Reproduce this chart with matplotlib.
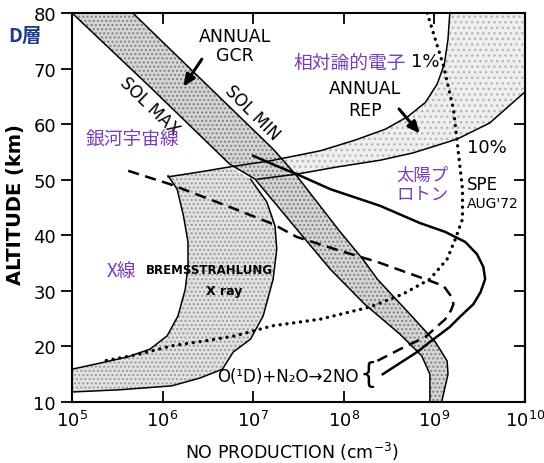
import numpy as np
import matplotlib
matplotlib.use("Agg")
import matplotlib.pyplot as plt

# all curves: x = log10(NO production, cm^-3), y = altitude (km)
solmax_x = [5.00, 5.86, 6.74, 7.02, 7.48, 7.85, 8.23, 8.62, 8.86, 8.95, 8.95]
solmax_y = [80.0, 66.7, 52.8, 50.1, 41.1, 33.9, 27.6, 22.2, 18.3, 15.0, 10.0]
solmin_x = [5.67, 7.22, 7.48, 7.96, 8.21, 8.37, 8.73, 9.01, 9.14, 9.15, 9.08]
solmin_y = [80.0, 55.5, 50.7, 40.6, 35.7, 32.1, 25.8, 20.8, 17.4, 15.0, 10.0]

rep1_x = [9.17, 9.15, 9.11, 9.03, 8.90, 8.71, 8.46, 8.12, 7.74, 7.19, 6.74, 6.41, 6.06]
rep1_y = [80.0, 75.3, 70.8, 67.2, 63.9, 61.4, 59.1, 57.1, 55.2, 53.4, 52.3, 51.4, 50.5]
rep10_x = [10.0, 9.61, 9.25, 8.76, 8.40, 7.93, 7.48, 7.05]
rep10_y = [65.8, 60.2, 57.3, 54.8, 53.5, 52.3, 51.0, 50.1]

xray_hi_x = [6.06, 6.16, 6.23, 6.28, 6.28, 6.25, 6.17, 6.05, 5.86, 5.61, 5.31, 5.00]
xray_hi_y = [50.7, 48.3, 43.5, 38.8, 34.5, 30.3, 25.5, 21.9, 19.5, 18.1, 17.0, 15.9]
xray_lo_x = [6.97, 7.15, 7.24, 7.26, 7.22, 7.11, 6.97, 6.78, 6.66, 6.41, 6.10, 5.53, 5.00]
xray_lo_y = [50.1, 46.0, 41.7, 37.5, 32.1, 25.5, 21.3, 19.0, 15.9, 14.3, 12.9, 12.2, 11.8]

spe_solid_x = [7.00, 7.24, 7.48, 7.85, 8.40, 8.84, 9.12, 9.34, 9.47, 9.54, 9.56, 9.51,
               9.43, 9.28, 9.17, 8.95, 8.81, 8.62, 8.43]
spe_solid_y = [54.3, 52.6, 51.0, 48.3, 45.3, 42.2, 40.6, 38.8, 36.6, 34.3, 32.1, 29.8,
               27.6, 25.3, 23.5, 20.8, 19.0, 17.0, 15.0]
dashed_x = [5.62, 6.08, 6.74, 7.22, 7.48, 7.96, 8.37, 8.95, 9.10, 9.19, 9.21, 9.18,
            9.12, 8.90, 8.62, 8.37]
dashed_y = [51.6, 49.2, 45.1, 42.0, 39.7, 37.2, 35.2, 31.8, 30.9, 28.9, 27.6, 26.4,
            24.9, 21.7, 19.5, 17.4]
dotted_x = [8.92, 9.10, 9.21, 9.26, 9.31, 9.31, 9.23, 9.14, 8.95, 8.65, 8.29, 7.74,
            7.21, 6.80, 6.47, 6.10, 5.74, 5.36]
dotted_y = [80.0, 70.5, 62.7, 55.5, 48.3, 42.9, 39.3, 35.7, 32.1, 29.4, 27.1, 24.9,
            23.7, 21.9, 21.0, 20.1, 18.6, 17.4]

yticks = [10, 20, 30, 40, 50, 60, 70, 80]
xticks = [1e5, 1e6, 1e7, 1e8, 1e9, 1e10]

purple = "#7a3db8"
jp = ["Noto Sans CJK JP", "DejaVu Sans"]

def P(v):
    return 10 ** np.array(v)

fig = plt.figure(figsize=(5.44, 4.64), dpi=100)
ax = fig.add_axes([0.1324, 0.1315, 0.8327, 0.8384])
ax.set_xscale("log")
ax.set_xlim(1e5, 1e10)
ax.set_ylim(10, 80)

# shaded bands
rep_px = list(P(rep1_x[:10])[::-1]) + [1e10, 1e10] + list(P(rep10_x))
rep_py = list(rep1_y[:10][::-1]) + [80, 80] + list(rep10_y)
ax.fill(rep_px, rep_py, facecolor="#efefef", edgecolor="#b5b5b5", hatch="...", lw=0, zorder=1)

xr_px = list(P(xray_hi_x)) + [1e5] + list(P(xray_lo_x)[::-1]) + list(P(rep1_x[10:12]))
xr_py = list(xray_hi_y) + [11.8] + list(xray_lo_y[::-1]) + list(rep1_y[10:12])
ax.fill(xr_px, xr_py, facecolor="#e2e2e2", edgecolor="#9a9a9a", hatch="....", lw=0, zorder=1)

gcr_px = list(P(solmax_x)) + list(P(solmin_x)[::-1])
gcr_py = list(solmax_y) + list(solmin_y[::-1])
ax.fill(gcr_px, gcr_py, facecolor="#d6d6d6", edgecolor="#808080", hatch="....", lw=0, zorder=2)

# outlines
for xs, ys in [(solmax_x, solmax_y), (solmin_x, solmin_y), (rep1_x, rep1_y), (rep10_x, rep10_y),
               (xray_hi_x, xray_hi_y), (xray_lo_x, xray_lo_y)]:
    ax.plot(P(xs), ys, color="black", lw=1.1, zorder=3)

ax.plot(P(spe_solid_x), spe_solid_y, color="black", lw=1.8, zorder=4)
ax.plot(P(dashed_x), dashed_y, color="black", lw=1.8, ls=(0, (4.5, 2.6)), zorder=4)
ax.plot(P(dotted_x), dotted_y, color="black", lw=2.4, ls=(0, (0.05, 2.0)),
        dash_capstyle="round", zorder=4)

# arrows
ax.annotate("", xy=(10 ** 6.21, 66.3), xytext=(10 ** 6.45, 72.1),
            arrowprops=dict(arrowstyle="-|>,head_length=0.7,head_width=0.3", lw=2.2, color="black"))
ax.annotate("", xy=(10 ** 8.86, 57.9), xytext=(10 ** 8.59, 63.1),
            arrowprops=dict(arrowstyle="-|>,head_length=0.7,head_width=0.3", lw=2.2, color="black"))

# labels in the plot
ax.text(10 ** 6.80, 74.1, "ANNUAL\nGCR", ha="center", va="center", fontsize=12.5, linespacing=1.1)
ax.text(10 ** 5.86, 63.3, "SOL MAX", ha="center", va="center", fontsize=12, rotation=-44)
ax.text(10 ** 6.99, 62.2, "SOL MIN", ha="center", va="center", fontsize=12, rotation=-45)
ax.text(10 ** 8.07, 71.2, "相対論的電子", ha="center", va="center", fontsize=13.5,
        color=purple, family=jp)
ax.text(10 ** 8.90, 71.4, "1%", ha="center", va="center", fontsize=13)
ax.text(10 ** 8.23, 64.5, "ANNUAL\nREP", ha="center", va="center", fontsize=12.5, linespacing=1.25)
ax.text(10 ** 9.58, 55.9, "10%", ha="center", va="center", fontsize=13)
ax.text(10 ** 8.87, 49.2, "太陽プ\nロトン", ha="center", va="center", fontsize=12.5,
        color=purple, family=jp, linespacing=1.1)
ax.text(10 ** 9.36, 49.2, "SPE", ha="left", va="center", fontsize=12)
ax.text(10 ** 9.36, 45.8, "AUG'72", ha="left", va="center", fontsize=10)
ax.text(10 ** 5.67, 57.3, "銀河宇宙線", ha="center", va="center", fontsize=13.5,
        color=purple, family=jp)
ax.text(10 ** 5.54, 33.6, "X線", ha="center", va="center", fontsize=13.5, color=purple, family=jp)
ax.text(10 ** 6.52, 33.9, "BREMSSTRAHLUNG", ha="center", va="center", fontsize=8.5,
        fontweight="bold")
ax.text(10 ** 6.68, 30.0, "X ray", ha="center", va="center", fontsize=9, fontweight="bold")
ax.text(10 ** 7.38, 14.7, "O(¹D)+N₂O→2NO", ha="center", va="center", fontsize=12)
ax.text(10 ** 8.27, 15.0, "{", ha="center", va="center", fontsize=20)

# axes styling
ax.set_xticks(xticks)
ax.set_yticks(yticks)
ax.minorticks_off()
ax.tick_params(axis="x", direction="in", top=True, length=8, width=1.3, labelsize=13, pad=6)
ax.tick_params(axis="y", direction="out", right=False, length=8, width=1.3, labelsize=13)
sec = ax.secondary_yaxis("right")
sec.set_yticks(yticks)
sec.tick_params(direction="in", length=8, width=1.3, labelright=False)
for s in list(ax.spines.values()) + list(sec.spines.values()):
    s.set_linewidth(1.5)

ax.set_ylabel("ALTITUDE (km)", fontsize=14, fontweight="bold")
ax.yaxis.set_label_coords(-0.104, 0.509)
ax.set_xlabel("NO PRODUCTION (cm$^{-3}$)", fontsize=12.5)
ax.xaxis.set_label_coords(0.486, -0.098)

fig.text(25 / 544, 1 - 36 / 464, "D層", ha="center", va="center", fontsize=14,
         fontweight="bold", color="#1f3c88", family=jp)

fig.savefig("out.png", dpi=100, facecolor="white")
